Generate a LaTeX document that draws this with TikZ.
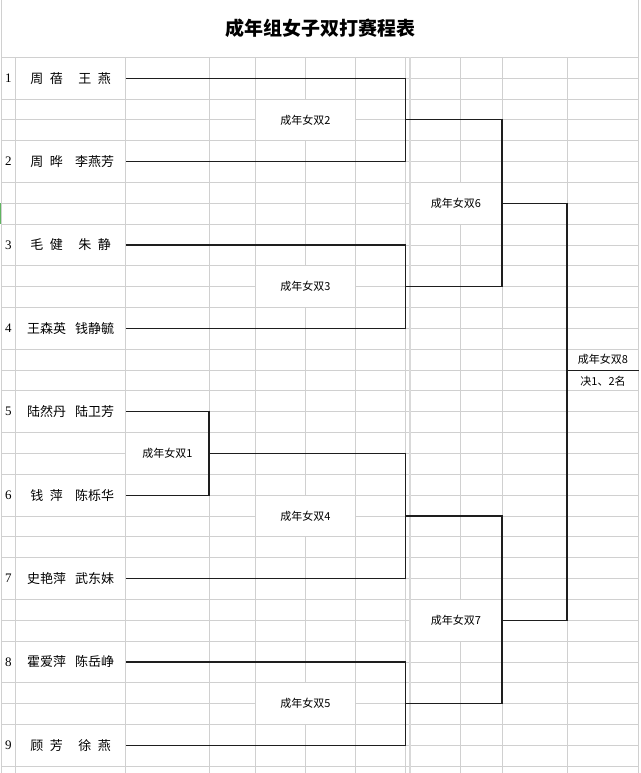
\documentclass[tikz,border=0pt]{standalone}
\usepackage{fontspec}
\usepackage{xcolor}
\usepackage{tikz}
\usetikzlibrary{positioning}
\setmainfont{Liberation Serif}
\newfontfamily\cjk{Noto Sans CJK SC}
\newcommand\nmsp{\hspace{0.5em}}
\newcommand\pairname[2]{\makebox[48pt]{#1}\makebox[48pt]{#2}}
\definecolor{SheetGrid}{RGB}{208,208,208}
\definecolor{SheetLine}{RGB}{30,30,30}
\definecolor{SheetGreen}{RGB}{96,180,96}
\tikzset{
    gridline/.style={draw=SheetGrid, line width=0.9pt},
    seed/.style={inner sep=0pt, font=\fontsize{13}{15}\selectfont},
    final/.style={rectangle, inner sep=0pt, minimum width=71pt, minimum height=20.85pt, font=\cjk\fontsize{11}{13}\selectfont}
}

\begin{document}
\begin{tikzpicture}[
        x=1pt, y=-20.85pt, % 1 hàng = 20.85pt
        % --- STYLE Ô TÊN ---
        pair/.style={
            rectangle,
            inner sep=0pt,
            minimum width=110pt,
            minimum height=40pt,
            font=\cjk\fontsize{13}{15}\selectfont
        },
        % --- STYLE Ô TRẬN ---
        match/.style={rectangle, fill=white, inner sep=0pt, minimum height=40.7pt, font=\cjk\fontsize{11}{13}\selectfont},
        % --- STYLE ĐƯỜNG NHÁNH ---
        bracket/.style={draw=SheetLine, line width=1.1pt}
    ]

        % --- KHUNG ---
        \path[use as bounding box, fill=white] (0,-2.748) rectangle (640,34.326);

        % --- LƯỚI BẢNG ---
        \foreach \k in {0,...,34}
            \draw[gridline] (125.7,\k) -- (638.5,\k);
        \foreach \k in {0,4,...,32} {
            \draw[gridline] (1,\k) -- (125.7,\k);
            \draw[gridline] (1,\k+2) -- (125.7,\k+2);
            \draw[gridline] (1,\k+3) -- (125.7,\k+3);
        }
        \foreach \x in {15.7,125.7,209,255,305,355.7,405.7,460,502,567}
            \draw[gridline] (\x,0) -- (\x,34.4);
        \draw[gridline] (1,-2.8) -- (1,34.4);
        \draw[gridline] (638.5,-2.8) -- (638.5,34.4);
        \draw[gridline, line width=1.5pt, draw=SheetGrid!80] (410,0) -- (410,34.4); % đường cố định
        \draw[SheetGreen, line width=1.2pt] (0.6,7) -- (0.6,8);

        % --- TIÊU ĐỀ ---
        \node[font=\cjk\bfseries\fontsize{19}{22}\selectfont] (title) at (320,-1.374) {成年组女子双打赛程表};

        % --- CÁC TRẬN ---
        \node[match, minimum width=82.3pt] (m1) at (167.35,19) {成年女双1};
        \node[match, minimum width=99.7pt] (m2) at (305.35,3) {成年女双2};
        \node[match, minimum width=99.7pt] (m3) at (305.35,11) {成年女双3};
        \node[match, minimum width=99.7pt] (m4) at (305.35,22) {成年女双4};
        \node[match, minimum width=99.7pt] (m5) at (305.35,31) {成年女双5};
        \node[match, minimum width=91pt] (m6) at (456,7) {成年女双6};
        \node[match, minimum width=91pt] (m7) at (456,27) {成年女双7};
        \node[final] (m8) at (603,14.5) {成年女双8};
        \node[final, below=0pt of m8] (rank) {决1、2名};

        % --- CÁC ĐÔI ---
        \node[seed] (s1) at (8.35,1) {1};
        \node[pair] (d1) at (70.7,1) {\pairname{周\nmsp{}蓓}{王\nmsp{}燕}};
        \node[seed] (s2) at (8.35,5) {2};
        \node[pair] (d2) at (70.7,5) {\pairname{周\nmsp{}晔}{李燕芳}};
        \node[seed] (s3) at (8.35,9) {3};
        \node[pair] (d3) at (70.7,9) {\pairname{毛\nmsp{}健}{朱\nmsp{}静}};
        \node[seed] (s4) at (8.35,13) {4};
        \node[pair] (d4) at (70.7,13) {\pairname{王森英}{钱静毓}};
        \node[seed] (s5) at (8.35,17) {5};
        \node[pair] (d5) at (70.7,17) {\pairname{陆然丹}{陆卫芳}};
        \node[seed] (s6) at (8.35,21) {6};
        \node[pair] (d6) at (70.7,21) {\pairname{钱\nmsp{}萍}{陈栎华}};
        \node[seed] (s7) at (8.35,25) {7};
        \node[pair] (d7) at (70.7,25) {\pairname{史艳萍}{武东妹}};
        \node[seed] (s8) at (8.35,29) {8};
        \node[pair] (d8) at (70.7,29) {\pairname{霍爱萍}{陈岳峥}};
        \node[seed] (s9) at (8.35,33) {9};
        \node[pair] (d9) at (70.7,33) {\pairname{顾\nmsp{}芳}{徐\nmsp{}燕}};

        % --- ĐIỂM THẮNG ---
        \coordinate (w1) at (209,19);
        \coordinate (w2) at (405.7,3);
        \coordinate (w3) at (405.7,11);
        \coordinate (w4) at (405.7,22);
        \coordinate (w5) at (405.7,31);
        \coordinate (w6) at (502,7);
        \coordinate (w7) at (502,27);
        \coordinate (w8) at (567,15);
        \coordinate (fin) at (638.5,15);

        % --- NHÁNH ĐẤU ---
        \draw[bracket] (d1.east) -| (w2) |- (d2.east);
        \draw[bracket] (d3.east) -| (w3) |- (d4.east);
        \draw[bracket] (d5.east) -| (w1) |- (d6.east);
        \draw[bracket] (w1) -| (w4) |- (d7.east);
        \draw[bracket] (d8.east) -| (w5) |- (d9.east);
        \draw[bracket] (w2) -| (w6) |- (w3);
        \draw[bracket] (w4) -| (w7) |- (w5);
        \draw[bracket] (w6) -| (w8) |- (w7); % chung kết
        \draw[bracket] (w8) -- (fin);

    \end{tikzpicture}
\end{document}
